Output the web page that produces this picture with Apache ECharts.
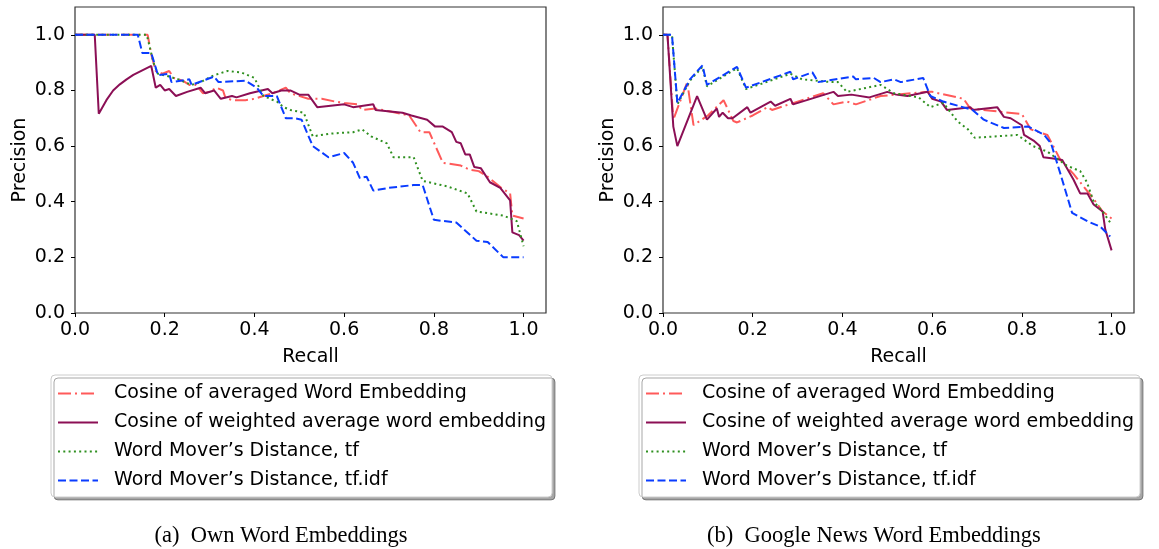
<!DOCTYPE html>
<html>
<head>
<meta charset="utf-8">
<script src="https://cdn.jsdelivr.net/npm/echarts@6/dist/echarts.min.js"></script>
<style>
  html, body { margin: 0; padding: 0; background: #fff; }
  #chart { width: 1159px; height: 549px; }
</style>
</head>
<body>
<div id="chart"></div>
<script>
// legend names / tick values
const seriesNames = [
  'Cosine of averaged Word Embedding',
  'Cosine of weighted average word embedding',
  'Word Mover\u2019s Distance, tf',
  'Word Mover\u2019s Distance, tf.idf'
]
const recallTicks = [0, 0.2, 0.4, 0.6, 0.8, 1.0]
const precisionTicks = [0, 0.2, 0.4, 0.6, 0.8, 1.0]
const captions = ['(a)  Own Word Embeddings', '(b)  Google News Word Embeddings']

// (a) own word embeddings : [recall, precision]
const ownCosAvg = [[0,1.0],[0.162,1.0],[0.17,0.93],[0.18,0.87],[0.195,0.86],[0.21,0.87],[0.22,0.845],[0.24,0.835],[0.255,0.82],[0.27,0.82],[0.285,0.79],[0.3,0.795],[0.315,0.81],[0.33,0.8],[0.335,0.775],[0.35,0.765],[0.38,0.765],[0.4,0.77],[0.42,0.78],[0.44,0.79],[0.47,0.81],[0.48,0.79],[0.52,0.77],[0.55,0.77],[0.58,0.76],[0.6,0.755],[0.63,0.75],[0.64,0.73],[0.67,0.735],[0.7,0.725],[0.73,0.715],[0.745,0.71],[0.77,0.65],[0.79,0.65],[0.82,0.54],[0.86,0.53],[0.88,0.515],[0.9,0.51],[0.92,0.49],[0.95,0.45],[0.97,0.43],[0.975,0.35],[1.0,0.34]]
const ownCosWeighted = [[0,1.0],[0.044,1.0],[0.053,0.716],[0.07,0.765],[0.085,0.8],[0.1,0.822],[0.115,0.84],[0.13,0.856],[0.15,0.872],[0.17,0.888],[0.18,0.81],[0.19,0.82],[0.2,0.8],[0.21,0.805],[0.225,0.78],[0.25,0.795],[0.28,0.81],[0.29,0.79],[0.31,0.8],[0.325,0.77],[0.35,0.78],[0.36,0.775],[0.39,0.79],[0.43,0.805],[0.44,0.79],[0.46,0.8],[0.48,0.8],[0.5,0.785],[0.52,0.785],[0.54,0.74],[0.6,0.75],[0.62,0.74],[0.665,0.75],[0.67,0.73],[0.73,0.72],[0.75,0.71],[0.785,0.695],[0.803,0.67],[0.82,0.67],[0.84,0.65],[0.85,0.615],[0.86,0.61],[0.87,0.57],[0.88,0.57],[0.89,0.525],[0.905,0.52],[0.925,0.47],[0.948,0.45],[0.97,0.405],[0.975,0.29],[0.99,0.28],[1.0,0.26]]
const ownWmdTf = [[0,1.0],[0.16,1.0],[0.175,0.9],[0.185,0.86],[0.21,0.85],[0.23,0.84],[0.26,0.82],[0.28,0.83],[0.31,0.855],[0.34,0.87],[0.37,0.865],[0.4,0.845],[0.42,0.78],[0.45,0.76],[0.465,0.74],[0.48,0.73],[0.51,0.72],[0.53,0.635],[0.57,0.645],[0.62,0.65],[0.64,0.66],[0.66,0.635],[0.695,0.61],[0.71,0.56],[0.755,0.56],[0.775,0.475],[0.83,0.455],[0.875,0.43],[0.895,0.365],[0.955,0.35],[0.985,0.33],[1.0,0.24]]
const ownWmdTfidf = [[0,1.0],[0.14,1.0],[0.15,0.935],[0.17,0.935],[0.185,0.855],[0.21,0.86],[0.215,0.83],[0.255,0.84],[0.26,0.82],[0.31,0.85],[0.32,0.83],[0.38,0.835],[0.405,0.81],[0.42,0.78],[0.45,0.78],[0.47,0.7],[0.49,0.7],[0.505,0.695],[0.53,0.6],[0.565,0.56],[0.6,0.575],[0.62,0.54],[0.635,0.485],[0.65,0.49],[0.665,0.44],[0.7,0.45],[0.755,0.46],[0.775,0.46],[0.8,0.335],[0.85,0.325],[0.895,0.26],[0.92,0.255],[0.955,0.2],[1.0,0.2]]

// (b) google news word embeddings
const gnCosAvg = [[0,1.0],[0.01,1.0],[0.023,0.695],[0.054,0.83],[0.068,0.675],[0.1,0.71],[0.135,0.765],[0.157,0.69],[0.165,0.685],[0.2,0.71],[0.233,0.74],[0.243,0.73],[0.3,0.76],[0.357,0.79],[0.38,0.75],[0.41,0.76],[0.43,0.75],[0.485,0.78],[0.59,0.795],[0.6,0.795],[0.67,0.77],[0.685,0.735],[0.8,0.715],[0.82,0.66],[0.857,0.64],[0.886,0.55],[0.915,0.5],[0.96,0.41],[0.98,0.365],[1.0,0.34]]
const gnCosWeighted = [[0,1.0],[0.01,1.0],[0.023,0.67],[0.032,0.6],[0.076,0.78],[0.098,0.695],[0.12,0.735],[0.125,0.705],[0.133,0.72],[0.145,0.7],[0.155,0.7],[0.188,0.74],[0.195,0.72],[0.24,0.76],[0.25,0.745],[0.284,0.77],[0.29,0.75],[0.38,0.795],[0.39,0.78],[0.42,0.785],[0.46,0.775],[0.5,0.795],[0.52,0.785],[0.545,0.78],[0.59,0.795],[0.6,0.77],[0.62,0.76],[0.633,0.73],[0.685,0.74],[0.69,0.73],[0.745,0.74],[0.76,0.705],[0.775,0.7],[0.8,0.675],[0.805,0.64],[0.826,0.62],[0.84,0.6],[0.848,0.56],[0.87,0.555],[0.89,0.55],[0.915,0.48],[0.93,0.43],[0.946,0.43],[0.96,0.39],[0.98,0.365],[0.986,0.3],[1.0,0.225]]
const gnWmdTf = [[0,1.0],[0.02,1.0],[0.032,0.75],[0.06,0.835],[0.088,0.885],[0.098,0.815],[0.165,0.88],[0.185,0.805],[0.284,0.86],[0.31,0.84],[0.375,0.83],[0.39,0.83],[0.41,0.795],[0.485,0.82],[0.515,0.79],[0.57,0.775],[0.596,0.74],[0.625,0.755],[0.656,0.69],[0.68,0.66],[0.695,0.63],[0.79,0.64],[0.825,0.6],[0.857,0.58],[0.9,0.53],[0.93,0.51],[0.945,0.47],[0.96,0.4],[0.98,0.365],[0.997,0.325]]
const gnWmdTfidf = [[0,1.0],[0.02,1.0],[0.032,0.755],[0.06,0.84],[0.088,0.89],[0.098,0.82],[0.165,0.885],[0.185,0.81],[0.284,0.867],[0.29,0.84],[0.333,0.865],[0.346,0.83],[0.424,0.85],[0.43,0.84],[0.47,0.845],[0.485,0.83],[0.515,0.84],[0.53,0.83],[0.58,0.845],[0.596,0.78],[0.625,0.76],[0.69,0.73],[0.715,0.695],[0.76,0.665],[0.815,0.67],[0.85,0.64],[0.865,0.61],[0.886,0.5],[0.912,0.36],[0.946,0.33],[0.975,0.31],[0.997,0.275]]

const colors = ['#ff5a5a', '#8b0f55', '#2f9020', '#0a3cff']
const dashes = [[13, 4, 2, 4], 'solid', [2, 3.3], [8, 3.5]]

const font = 'DejaVu Sans'

const makeXAxis = (gridIndex) => ({
  type: 'value',
  gridIndex: gridIndex,
  min: 0,
  max: 1.05,
  name: 'Recall',
  nameLocation: 'middle',
  nameGap: 35,
  nameTextStyle: { fontFamily: font, fontSize: 19, color: '#000' },
  splitLine: { show: false },
  axisLine: { show: false },
  axisTick: { show: true, length: 4, inside: false, customValues: recallTicks, lineStyle: { color: '#000' } },
  axisLabel: {
    customValues: recallTicks,
    margin: 8,
    fontFamily: font,
    fontSize: 19,
    color: '#000',
    formatter: v => v.toFixed(1)
  }
})

const makeYAxis = (gridIndex) => ({
  type: 'value',
  gridIndex: gridIndex,
  min: 0,
  max: 1.1,
  name: 'Precision',
  nameLocation: 'middle',
  nameGap: 45,
  nameTextStyle: { fontFamily: font, fontSize: 19, color: '#000' },
  splitLine: { show: false },
  axisLine: { show: false },
  axisTick: { show: true, length: 4, inside: false, customValues: precisionTicks, lineStyle: { color: '#000' } },
  axisLabel: {
    customValues: precisionTicks,
    margin: 10,
    fontFamily: font,
    fontSize: 19,
    color: '#000',
    formatter: v => v.toFixed(1)
  }
})

const makeSeries = (gridIndex, lists) => lists.map((d, i) => ({
  type: 'line',
  name: seriesNames[i],
  xAxisIndex: gridIndex,
  yAxisIndex: gridIndex,
  data: d,
  symbol: 'none',
  clip: true,
  lineStyle: { color: colors[i], width: 2, type: dashes[i] },
  itemStyle: { color: colors[i] }
}))

const makeLegend = (left) => ({
  show: true,
  orient: 'vertical',
  left: left,
  top: 375,
  padding: [9, 6, 7, 6],
  itemWidth: 40,
  itemHeight: 20,
  itemGap: 10,
  selectedMode: false,
  backgroundColor: '#fff',
  borderColor: '#cccccc',
  borderWidth: 1,
  borderRadius: 4,
  shadowColor: 'rgba(0, 0, 0, 0.35)',
  shadowBlur: 0,
  shadowOffsetX: 3,
  shadowOffsetY: 3,
  // hide the symbol in the middle of the legend line
  itemStyle: { opacity: 0 },
  data: seriesNames,
  formatter: name => '{g|}' + name,
  textStyle: {
    fontFamily: font,
    fontSize: 19,
    color: '#000',
    rich: { g: { width: 11 } }
  }
})

const mChart = echarts.init(document.getElementById('chart'), null, { renderer: 'canvas' })

const options = {
  animation: false,
  backgroundColor: '#fff',
  grid: [
    { left: 75, top: 7, width: 471, height: 306, show: true, borderColor: '#333', borderWidth: 1.2, backgroundColor: '#fff' },
    { left: 663, top: 7, width: 471, height: 306, show: true, borderColor: '#333', borderWidth: 1.2, backgroundColor: '#fff' }
  ],
  xAxis: [makeXAxis(0), makeXAxis(1)],
  yAxis: [makeYAxis(0), makeYAxis(1)],
  legend: [makeLegend(51), makeLegend(639)],
  graphic: [
    { type: 'text', style: { text: captions[0], x: 281, y: 536, align: 'center', verticalAlign: 'middle', font: '22.5px "Liberation Serif"', fill: '#000' } },
    { type: 'text', style: { text: captions[1], x: 874, y: 536, align: 'center', verticalAlign: 'middle', font: '22.5px "Liberation Serif"', fill: '#000' } }
  ],
  series: [
    ...makeSeries(0, [ownCosAvg, ownCosWeighted, ownWmdTf, ownWmdTfidf]),
    ...makeSeries(1, [gnCosAvg, gnCosWeighted, gnWmdTf, gnWmdTfidf])
  ]
}

mChart.setOption(options)
</script>
</body>
</html>
